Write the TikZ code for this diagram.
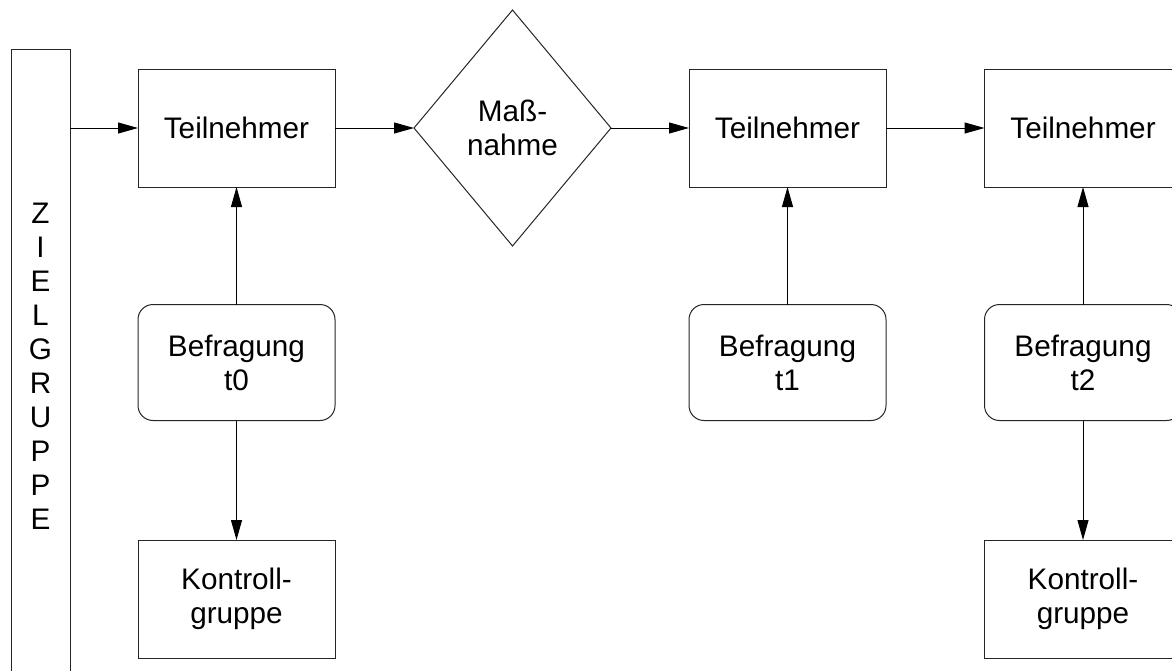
\documentclass[tikz,border=0pt]{standalone}
\usepackage{fontspec}
\setmainfont{Liberation Sans}
\usetikzlibrary{arrows.meta,shapes.geometric}
\tikzset{
  base/.style={draw=black!85, line width=1pt, inner sep=0pt, outer sep=0pt, align=center,
    font=\fontsize{29.7}{34}\selectfont},
  box/.style={base, rectangle, minimum width=197pt, minimum height=118pt},
  rbox/.style={base, rectangle, rounded corners=15pt, minimum width=197pt, minimum height=116pt},
  dia/.style={base, diamond, minimum width=197pt, minimum height=236pt},
  zbox/.style={base, rectangle, minimum width=59pt, minimum height=634pt},
  arr/.style={draw=black, line width=1pt, -{Triangle[length=20pt,width=11pt]}},
}
\begin{document}
\begin{tikzpicture}[x=1pt,y=-1pt]
\useasboundingbox (0,0) rectangle (1172,670);
\clip (0,0) rectangle (1172,670);
\fill[white] (0,0) rectangle (1172,670);
\node[zbox] (zg) at (40.5,366) {Z\\I\\E\\L\\G\\R\\U\\P\\P\\E};
\node[box] (t1) at (236.5,128) {Teilnehmer};
\node[dia] (m) at (512.5,128) {Maß-\\nahme};
\node[box] (t2) at (787.5,128) {Teilnehmer};
\node[box] (t3) at (1083,128) {Teilnehmer};
\node[rbox] (b0) at (236.5,362.5) {Befragung\\t0};
\node[rbox] (b1) at (787.5,362.5) {Befragung\\t1};
\node[rbox] (b2) at (1083,362.5) {Befragung\\t2};
\node[box] (k0) at (236.5,599) {Kontroll-\\gruppe};
\node[box] (k2) at (1083,599) {Kontroll-\\gruppe};
\draw[arr] (zg.east |- t1) -- (t1);
\draw[arr] (t1) -- (m);
\draw[arr] (m) -- (t2);
\draw[arr] (t2) -- (t3);
\draw[arr] (b0) -- (t1);
\draw[arr] (b0) -- (k0);
\draw[arr] (b1) -- (t2);
\draw[arr] (b2) -- (t3);
\draw[arr] (b2) -- (k2);
\end{tikzpicture}
\end{document}
